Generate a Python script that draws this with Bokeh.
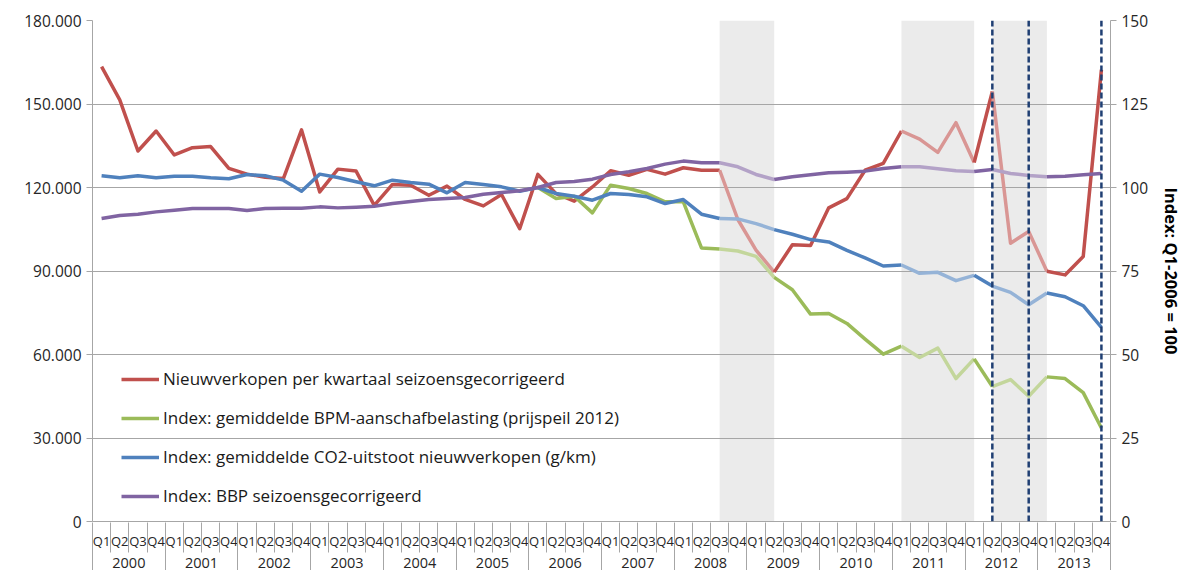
from bokeh.plotting import figure
from bokeh.models import (FactorRange, Range1d, LinearAxis, FixedTicker, Legend,
                          LegendItem, Span, CustomJSTickFormatter)
from bokeh.embed import file_html
from bokeh.resources import INLINE

years = [str(y) for y in range(2000, 2014)]
quarters = ["Q1", "Q2", "Q3", "Q4"]
periods = [(y, q) for y in years for q in quarters]

# Nieuwverkopen per kwartaal (left axis)
sales = [163400, 151500, 133100, 140300, 131700, 134300, 134700, 126900,
         124800, 123700, 123200, 140700, 118400, 126600, 125900, 113600,
         121100, 120800, 117200, 120500, 115700, 113400, 117500, 105200,
         124700, 117800, 115100, 120200, 126000, 124400, 126500, 124800,
         127100, 126200, 126200, 108500, 97500, 89600, 99400, 99200,
         112700, 116000, 126200, 128700, 140300, 137400, 132600, 143300,
         129000, 154500, 100000, 104200, 89900, 88600, 95200, 162300]
# Index series (right axis, Q1-2006 = 100)
bpm = [None] * 24 + [100, 96.7, 97.4, 92.4, 100.7, 99.7, 98.2, 95.7,
                     95.7, 81.9, 81.6, 81.0, 79.4, 73.1, 69.4, 62.1,
                     62.3, 59.3, 54.6, 50.1, 52.5, 49.1, 51.9, 42.8,
                     48.7, 40.4, 42.5, 37.5, 43.3, 42.8, 38.6, 28.0]
co2 = [103.5, 102.9, 103.5, 102.9, 103.4, 103.4, 102.9, 102.6,
       103.9, 103.5, 102.2, 98.9, 104.0, 103.0, 101.7, 100.5,
       102.2, 101.5, 101.0, 98.4, 101.5, 100.9, 100.2, 98.9,
       100, 98.2, 97.4, 96.2, 98.2, 97.9, 97.2, 95.2,
       96.4, 92.0, 90.7, 90.6, 89.2, 87.4, 86.0, 84.4,
       83.7, 81.2, 78.9, 76.5, 76.8, 74.3, 74.6, 72.1,
       73.7, 70.5, 68.6, 64.9, 68.4, 67.3, 64.6, 58.1]
gdp = [90.7, 91.6, 92.0, 92.7, 93.2, 93.7, 93.7, 93.7,
       93.1, 93.7, 93.8, 93.8, 94.2, 93.9, 94.1, 94.4,
       95.2, 95.8, 96.4, 96.7, 97.0, 98.0, 98.5, 99.0,
       100, 101.5, 101.8, 102.5, 103.9, 104.7, 105.7, 107.0,
       107.9, 107.4, 107.4, 106.2, 103.9, 102.4, 103.2, 103.8,
       104.4, 104.6, 104.9, 105.7, 106.2, 106.2, 105.6, 105.0,
       104.8, 105.4, 104.2, 103.6, 103.2, 103.4, 103.8, 104.2]

series_names = ["Nieuwverkopen per kwartaal seizoensgecorrigeerd",
                "Index: gemiddelde BPM-aanschafbelasting (prijspeil 2012)",
                "Index: gemiddelde CO2-uitstoot nieuwverkopen (g/km)",
                "Index: BBP seizoensgecorrigeerd"]

shaded_periods = [(("2008", "Q3"), ("2009", "Q2")),
                  (("2011", "Q1"), ("2012", "Q1")),
                  (("2012", "Q2"), ("2013", "Q1"))]
dashed_periods = [("2012", "Q2"), ("2012", "Q4"), ("2013", "Q4")]

left_ticks = [0, 30000, 60000, 90000, 120000, 150000, 180000]
left_labels = ["0", "30.000", "60.000", "90.000", "120.000", "150.000", "180.000"]
right_ticks = [0, 25, 50, 75, 100, 125, 150]

colors = ["#C0504D", "#9BBB59", "#4F81BD", "#8064A2"]
faded = ["#D99694", "#C3D69B", "#95B3D7", "#B3A2C7"]

FONT = "Open Sans"
TXT = "#262626"
AX = "#a6a6a6"

n = len(periods)
nq = len(quarters)

p = figure(width=1186, height=570, output_backend="svg", toolbar_location=None,
           x_range=FactorRange(*periods, group_padding=0, subgroup_padding=0,
                               factor_padding=0, range_padding=0),
           y_range=Range1d(0, 180000), x_axis_location=None,
           min_border_left=92, min_border_right=75, min_border_top=20,
           min_border_bottom=48)
p.extra_y_ranges = {"idx": Range1d(0, 150)}
p.outline_line_color = None
p.xgrid.grid_line_color = None
p.ygrid.ticker = FixedTicker(ticks=left_ticks)
p.ygrid.grid_line_color = AX
p.ygrid.grid_line_width = 1

# shaded bands (below grid)
idx_of = {f: i for i, f in enumerate(periods)}
for a, b in shaded_periods:
    p.quad(left=[idx_of[a] + 0.5], right=[idx_of[b] + 0.5], bottom=[0], top=[180000],
           fill_color="#EBEBEB", line_color=None, level="image")

def in_band(i, j):
    for a, b in shaded_periods:
        if idx_of[a] <= i and j <= idx_of[b]:
            return True
    return False

legend_items = []
for name, vals, col, fcol, rng in zip(series_names, [sales, bpm, co2, gdp], colors, faded,
                                      ["default", "idx", "idx", "idx"]):
    valid = [i for i, v in enumerate(vals) if v is not None]
    runs = []
    cur = [valid[0]]
    cur_f = None
    for i in valid[1:]:
        f = in_band(i - 1, i)
        if cur_f is None or f == cur_f:
            cur.append(i)
            cur_f = f
        else:
            runs.append((cur, cur_f))
            cur = [i - 1, i]
            cur_f = f
    runs.append((cur, cur_f))
    first = None
    for run, f in runs:
        kw = {}
        if rng != "default":
            kw["y_range_name"] = rng
        r = p.line(x=[periods[k] for k in run], y=[vals[k] for k in run],
                   line_color=fcol if f else col, line_width=3.5, line_join="round", **kw)
        if first is None and not f:
            first = r
    legend_items.append(LegendItem(label=name, renderers=[first]))

for d in dashed_periods:
    p.add_layout(Span(location=idx_of[d] + 0.5, dimension="height",
                      line_color="#1F3F73", line_width=2.5, line_dash="6 3"))

# left axis
ya = p.yaxis[0]
ya.ticker = FixedTicker(ticks=left_ticks)
ya.major_label_overrides = {t: l for t, l in zip(left_ticks, left_labels)}
ya.major_label_text_font = FONT
ya.major_label_text_font_size = "15.5px"
ya.major_label_text_color = TXT
ya.axis_line_color = AX
ya.major_tick_line_color = AX
ya.major_tick_out = 6
ya.major_tick_in = 0
ya.minor_tick_line_color = None

# right axis
ra = LinearAxis(y_range_name="idx", ticker=FixedTicker(ticks=right_ticks),
                axis_label="Index: Q1-2006 = 100")
ra.major_label_text_font = FONT
ra.major_label_text_font_size = "15.5px"
ra.major_label_text_color = TXT
ra.axis_label_text_font = FONT
ra.axis_label_text_font_size = "16.5px"
ra.axis_label_text_font_style = "bold"
ra.axis_label_text_color = "#000000"
ra.axis_label_standoff = 9
ra.axis_line_color = AX
ra.major_tick_line_color = AX
ra.major_tick_out = 6
ra.major_tick_in = 0
ra.minor_tick_line_color = None
p.add_layout(ra, "right")

# x axis row 1: quarter labels
qa = LinearAxis(ticker=FixedTicker(ticks=[i + 0.5 for i in range(n)]),
                formatter=CustomJSTickFormatter(args=dict(labels=[q for (_, q) in periods]),
                                                code="return labels[Math.floor(tick)];"))
qa.major_label_text_font = FONT
qa.major_label_text_font_size = "13px"
qa.major_label_text_color = TXT
qa.major_tick_line_color = None
qa.major_tick_out = 0
qa.major_tick_in = 0
qa.minor_tick_line_color = None
qa.axis_line_color = AX
qa.major_label_standoff = 10
p.add_layout(qa, "below")

# x axis row 2: year labels; separators between quarters reach up through row 1
ya2 = LinearAxis(ticker=FixedTicker(ticks=[k * nq + nq / 2 for k in range(len(years))],
                                    minor_ticks=list(range(n + 1))),
                 formatter=CustomJSTickFormatter(args=dict(labels=years, nq=nq),
                                                 code="return labels[Math.floor(tick / nq)];"))
ya2.major_label_text_font = FONT
ya2.major_label_text_font_size = "14.5px"
ya2.major_label_text_color = TXT
ya2.major_tick_line_color = None
ya2.major_tick_out = 0
ya2.major_tick_in = 0
ya2.minor_tick_line_color = AX
ya2.minor_tick_out = 0
ya2.minor_tick_in = 30
ya2.axis_line_color = None
ya2.major_label_standoff = 5
p.add_layout(ya2, "below")

# x axis row 3: separators between years reaching up through row 2
sep = LinearAxis(ticker=FixedTicker(ticks=[], minor_ticks=[k * nq for k in range(len(years) + 1)]),
                 major_label_text_font_size="0px")
sep.major_tick_line_color = None
sep.major_tick_out = 0
sep.major_tick_in = 0
sep.minor_tick_line_color = AX
sep.minor_tick_out = 0
sep.minor_tick_in = 30
sep.axis_line_color = None
sep.major_label_standoff = 0
p.add_layout(sep, "below")

legend = Legend(items=legend_items, location=(29, 14), label_text_font=FONT,
                label_text_font_size="17px", label_text_color="#1a1a1a",
                glyph_width=38, glyph_height=22, label_height=22, spacing=16,
                padding=0, margin=0, background_fill_alpha=0,
                border_line_color=None, label_standoff=4)
p.add_layout(legend)

open("out.html", "w").write(file_html(p, INLINE))
